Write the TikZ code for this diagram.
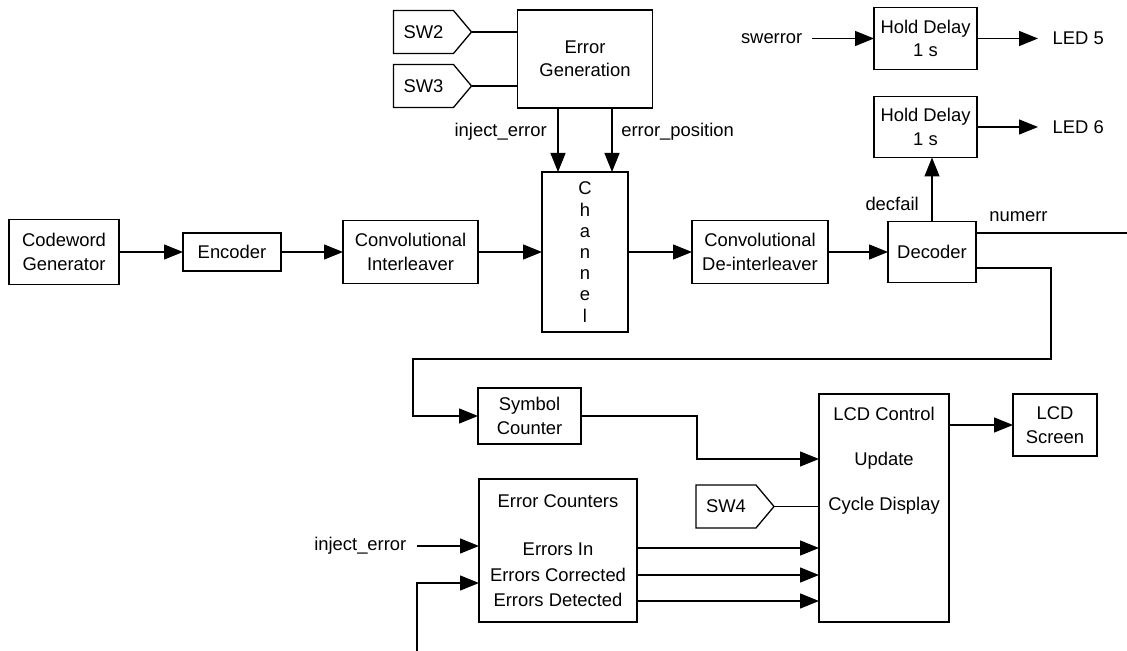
\documentclass[tikz,border=0pt]{standalone}
\usepackage{fontspec}
\setsansfont{Liberation Sans}
\usetikzlibrary{shapes.symbols, positioning, arrows.meta}

\begin{document}
\begin{tikzpicture} [ x=0.5pt, y=-0.5pt
                    , line width=0.65pt
                    , font=\sffamily\fontsize{9.2pt}{11.75pt}\selectfont
                    , box/.style={draw, align=center, inner sep=2pt, outer sep=0pt}
                    , swbox/.style={draw, shape=signal, signal to=east, signal pointer angle=100, minimum width=39pt, minimum height=21.5pt, inner sep=2pt, outer sep=0pt}
                    , arr/.style={-{Triangle[length=9.5pt, width=7.5pt]}}
                    ]

  \useasboundingbox (0,0) rectangle (1127,651);

  % --- Main Chain ------------------------------------------------------------
  \node [ box
        , minimum width=55pt, minimum height=32.5pt
        ]
        (CG) at (64,252) {Codeword\\Generator};

  \node [ box
        , minimum width=49pt, minimum height=19pt
        , right=32pt of CG
        ]
        (Enc) {Encoder};

  \node [ box
        , minimum width=67.5pt, minimum height=31.5pt
        , right=31pt of Enc
        ]
        (CI) {Convolutional\\Interleaver};

  \node [ box
        , minimum width=43pt, minimum height=80pt
        , font=\sffamily\fontsize{9.2pt}{10.6pt}\selectfont
        , right=32pt of CI
        ]
        (Ch) {C\\h\\a\\n\\n\\e\\l};

  \node [ box
        , minimum width=68pt, minimum height=31.5pt
        , right=32pt of Ch
        ]
        (CD) {Convolutional\\De-interleaver};

  \node [ box
        , minimum width=44pt, minimum height=30.5pt
        , right=30pt of CD
        ]
        (Dec) {Decoder};

  \draw [arr] (CG) -- (Enc);
  \draw [arr] (Enc) -- (CI);
  \draw [arr] (CI) -- (Ch);
  \draw [arr] (Ch) -- (CD);
  \draw [arr] (CD) -- (Dec);
  % ---------------------------------------------------------------------------

  % --- Error Generation ------------------------------------------------------
  \node [ box
        , minimum width=67.5pt, minimum height=49pt
        , above=32pt of Ch
        ]
        (EG) {Error\\Generation};

  \node [ swbox
        , left=23pt of EG
        , yshift=13.5pt
        ]
        (SW2) {SW2};

  \node [ swbox
        , left=23pt of EG
        , yshift=-13.5pt
        ]
        (SW3) {SW3};

  \draw (SW2.east) -- (SW2.east -| EG.west);
  \draw (SW3.east) -- (SW3.east -| EG.west);

  \draw [arr] ([xshift=-13.5pt]Ch.north |- EG.south) -- ([xshift=-13.5pt]Ch.north)
        node (injA) [midway, left=2pt, yshift=4pt] {inject\_error};
  \draw [arr] ([xshift=13.5pt]Ch.north |- EG.south) -- ([xshift=13.5pt]Ch.north)
        node (errpos) [midway, right=1pt, yshift=4pt] {error\_position};
  % ---------------------------------------------------------------------------

  % --- Hold Delays -----------------------------------------------------------
  \node [ box
        , minimum width=51.5pt, minimum height=30.5pt
        , above=32pt of Dec
        , xshift=-3.25pt
        ]
        (HD2) {Hold Delay\\1 s};

  \node [ box
        , minimum width=51.5pt, minimum height=31pt
        , above=13.5pt of HD2
        ]
        (HD1) {Hold Delay\\1 s};

  \node [ inner xsep=4.5pt
        , left=31pt of HD1
        ]
        (swerror) {swerror};

  \node [ inner xsep=7pt
        , right=30.5pt of HD1
        ]
        (LED5) {LED 5};

  \node [ inner xsep=7pt
        , right=30.5pt of HD2
        ]
        (LED6) {LED 6};

  \draw [arr] (swerror.east) -- (swerror.east -| HD1.west);
  \draw [arr] (HD1.east |- LED5.west) -- (LED5.west);
  \draw [arr] (HD2.east |- LED6.west) -- (LED6.west);
  \draw [arr] (Dec.north) -- (Dec.north |- HD2.south)
        node (decfail) [midway, left=3pt, yshift=-7pt] {decfail};

  \draw ([yshift=9.5pt]Dec.east) -- ++(151,0)
        node (numerr) [pos=0, above right, xshift=3pt, yshift=2pt] {numerr};
  % ---------------------------------------------------------------------------

  % --- Counters and LCD ------------------------------------------------------
  \node [ box
        , minimum width=51.5pt, minimum height=28pt
        ]
        (SC) at (529.5,416) {Symbol\\Counter};

  \node [ box
        , minimum width=79pt, minimum height=71.5pt
        ]
        (EC) at (558,550.5) {Error Counters\\[12.25pt]Errors In\\[1pt]Errors Corrected\\[0.75pt]Errors Detected};

  \node [ box
        , minimum width=65pt, minimum height=114pt
        ]
        (LCD) at (884,508) {};

  \node [ align=center
        ]
        (LCDtxt) at (LCD.center |- 0,461) {LCD Control\\[10.75pt]Update\\[10.75pt]Cycle Display};

  \node [ box
        , minimum width=42pt, minimum height=31pt
        ]
        (Scr) at (1055,425) {LCD\\Screen};

  \node [ swbox
        , anchor=east
        ]
        (SW4) at (774,506.5) {SW4};

  \node [ inner xsep=5pt
        , anchor=east
        ]
        (injB) at (417,546) {inject\_error};

  \coordinate (cnt) at (417,651);

  \draw [arr] ([yshift=-8pt]Dec.east) -| (1051,359) -- (413,359) |- (SC.west);
  \draw [arr] (SC.east) -| (697,459) -- (LCD.west |- 0,459);
  \draw (SW4.east) -- (SW4.east -| LCD.west);
  \draw [arr] (LCD.east |- Scr.west) -- (Scr.west);
  \draw [arr] (injB.east) -- (EC.west |- injB.east);
  \draw [arr] (cnt) |- (EC.west |- 0,583);
  \foreach \y in {548,575,601}
    \draw [arr] (EC.east |- 0,\y) -- (LCD.west |- 0,\y);
  % ---------------------------------------------------------------------------
\end{tikzpicture}
\end{document}
